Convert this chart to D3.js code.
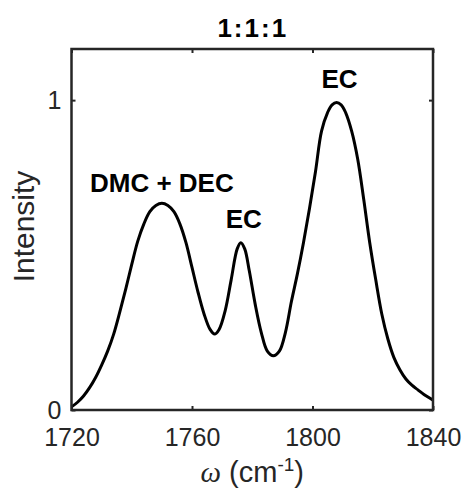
<!DOCTYPE html>
<html>
<head>
<meta charset="utf-8">
<script src="https://cdn.jsdelivr.net/npm/d3@7"></script>
<style>
  body { margin: 0; background: #fff; }
  svg { font-family: "Liberation Sans", Arial, sans-serif; }
  .axis text { font-size: 25px; fill: #262626; }
  .axis line { stroke: #262626; stroke-width: 2; }
  .axis .domain { display: none; }
</style>
</head>
<body>
<div id="chart"></div>
<script>
// Spectrum (wavenumber, intensity)
const wavenumber = [1720, 1722, 1724, 1726, 1728, 1730, 1732, 1734, 1736, 1738,
  1740, 1742, 1744, 1746, 1748, 1750, 1752, 1754, 1756, 1758,
  1760, 1762, 1764, 1766, 1767.5, 1769, 1771, 1773, 1775, 1776.2,
  1777.5, 1779, 1781, 1783, 1785, 1787, 1789, 1791, 1793, 1795,
  1797, 1799, 1801, 1803, 1805, 1806.5, 1808, 1809.5, 1811, 1813,
  1815, 1817, 1819, 1821, 1823, 1825, 1827, 1829, 1831, 1833,
  1835, 1837, 1840];
const intensity = [0.01, 0.025, 0.045, 0.072, 0.105, 0.145, 0.19, 0.245, 0.315, 0.39,
  0.47, 0.545, 0.60, 0.64, 0.66, 0.667, 0.66, 0.64, 0.60, 0.54,
  0.46, 0.38, 0.31, 0.26, 0.245, 0.26, 0.32, 0.42, 0.52, 0.54,
  0.52, 0.45, 0.34, 0.25, 0.19, 0.175, 0.19, 0.25, 0.35, 0.44,
  0.54, 0.65, 0.77, 0.90, 0.96, 0.985, 0.992, 0.985, 0.96, 0.90,
  0.81, 0.68, 0.54, 0.42, 0.31, 0.23, 0.17, 0.13, 0.10, 0.08,
  0.065, 0.05, 0.032];

const xTicks = [1720, 1760, 1800, 1840];
const yTicks = [0, 1];

const peakLabels = ["DMC + DEC", "EC", "EC"];
const peakX = [1750, 1776.2, 1808];
const peakY = [0.667, 0.54, 0.992];

const margin = { top: 49, right: 34, bottom: 86, left: 71.5 };
const width = 467 - margin.left - margin.right;
const height = 496 - margin.top - margin.bottom;

const svg = d3.select("#chart").append("svg")
  .attr("width", 467)
  .attr("height", 496)
  .append("g")
  .attr("transform", "translate(" + margin.left + "," + margin.top + ")");

const x = d3.scaleLinear().domain([1720, 1840]).range([0, width]);
const y = d3.scaleLinear().domain([0, 1.165]).range([height, 0]);

// axes, ticks pointing inward
svg.append("g").attr("class", "axis")
  .attr("transform", "translate(0," + height + ")")
  .call(d3.axisBottom(x).tickValues(xTicks).tickSize(-4).tickPadding(18).tickFormat(d3.format("d")));
svg.append("g").attr("class", "axis")
  .call(d3.axisTop(x).tickValues(xTicks).tickSize(-4).tickFormat(""));
svg.append("g").attr("class", "axis")
  .call(d3.axisLeft(y).tickValues(yTicks).tickSize(-4).tickPadding(10).tickFormat(d3.format("d")));
svg.append("g").attr("class", "axis")
  .attr("transform", "translate(" + width + ",0)")
  .call(d3.axisRight(y).tickValues(yTicks).tickSize(-4).tickFormat(""));

// the line
const points = wavenumber.map((w, i) => [w, intensity[i]]);
svg.append("path")
  .datum(points)
  .attr("fill", "none")
  .attr("stroke", "#000")
  .attr("stroke-width", 3)
  .attr("d", d3.line().x(d => x(d[0])).y(d => y(d[1])).curve(d3.curveCatmullRom));

// box
svg.append("rect")
  .attr("width", width)
  .attr("height", height)
  .attr("fill", "none")
  .attr("stroke", "#262626")
  .attr("stroke-width", 2.5);

// peak labels
const labelDy = [-11, -15, -15];
svg.selectAll(".peak")
  .data(peakLabels)
  .enter().append("text")
  .attr("class", "peak")
  .attr("x", (d, i) => x(peakX[i]) + (i === 0 ? 0 : 3))
  .attr("y", (d, i) => y(peakY[i]) + labelDy[i])
  .attr("text-anchor", "middle")
  .style("font-size", "26px")
  .style("font-weight", "bold")
  .text(d => d);

// title
svg.append("text")
  .attr("x", width / 2 + 0.5)
  .attr("y", -12)
  .attr("text-anchor", "middle")
  .style("font-size", "26px")
  .style("font-weight", "bold")
  .style("letter-spacing", "2px")
  .text("1:1:1");

// axis titles
const xl = svg.append("text")
  .attr("x", width / 2)
  .attr("y", height + 72)
  .attr("text-anchor", "middle")
  .style("font-size", "29px")
  .style("fill", "#262626");
xl.append("tspan").style("font-family", "'Liberation Serif', serif").style("font-style", "italic").text("ω");
xl.append("tspan").text(" (cm");
xl.append("tspan").attr("dy", -11).style("font-size", "19px").text("-1");
xl.append("tspan").attr("dy", 11).text(")");

svg.append("text")
  .attr("transform", "translate(" + (33.5 - margin.left) + "," + (height / 2 - 3) + ") rotate(-90)")
  .attr("text-anchor", "middle")
  .style("font-size", "30px")
  .style("fill", "#262626")
  .text("Intensity");
</script>
</body>
</html>
